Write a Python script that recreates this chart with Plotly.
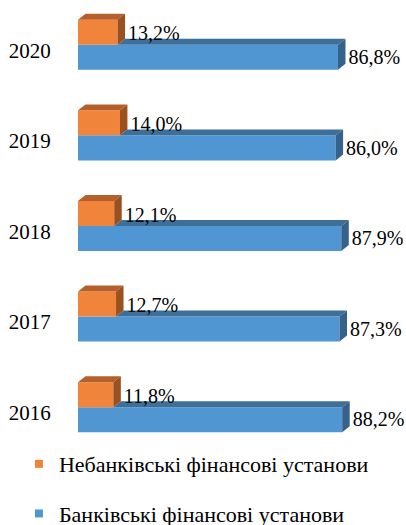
import plotly.graph_objects as go

years = ["2016", "2017", "2018", "2019", "2020"]
nonbank = [11.8, 12.7, 12.1, 14.0, 13.2]
bank = [88.2, 87.3, 87.9, 86.0, 86.8]
series_names = ["Небанківські фінансові установи", "Банківські фінансові установи"]

FONT = "Liberation Serif"
OR_FRONT, OR_TOP, OR_SIDE = "#F0843A", "#B5602B", "#9B5020"
BL_FRONT, BL_TOP, BL_SIDE = "#4F96D2", "#3E6F99", "#35618A"

W = 0.276          # bar thickness (category units)
C = 0.061          # front-face shift of the pair
DX = 2.5           # depth in x units
DY = 0.066         # depth in y units
PAD = 1.0          # label gap in x units

pos = list(range(len(years)))
oc = [p + C + W / 2 for p in pos]
bc = [p + C - W / 2 for p in pos]

def fmt(v):
    return f"{v:.1f}".replace(".", ",") + "%"

def polys(list_of_pts):
    xs, ys = [], []
    for pts in list_of_pts:
        for x, y in pts:
            xs.append(x); ys.append(y)
        xs.append(pts[0][0]); ys.append(pts[0][1])
        xs.append(None); ys.append(None)
    return xs, ys

bl_top, bl_side, or_top, or_side = [], [], [], []
for o, b, yo, yb in zip(nonbank, bank, oc, bc):
    ot, ob = yo + W / 2, yo - W / 2
    bt, bb = yb + W / 2, yb - W / 2
    or_top.append([(0, ot), (DX, ot + DY), (o + DX, ot + DY), (o, ot)])
    or_side.append([(o, ob), (o, ot), (o + DX, ot + DY), (o + DX, ob + DY)])
    bl_top.append([(o, bt), (o + DX, bt + DY), (b + DX, bt + DY), (b, bt)])
    bl_side.append([(b, bb), (b, bt), (b + DX, bt + DY), (b + DX, bb + DY)])

fig = go.Figure()
fig.add_trace(go.Bar(x=bank, y=bc, orientation="h", width=W, marker=dict(color=BL_FRONT, line=dict(width=0)),
                     showlegend=False, hoverinfo="skip"))
fig.add_trace(go.Bar(x=nonbank, y=oc, orientation="h", width=W, marker=dict(color=OR_FRONT, line=dict(width=0)),
                     showlegend=False, hoverinfo="skip"))
for pts, col in [(bl_top, BL_TOP), (bl_side, BL_SIDE), (or_top, OR_TOP), (or_side, OR_SIDE)]:
    xs, ys = polys(pts)
    fig.add_trace(go.Scatter(x=xs, y=ys, mode="lines", fill="toself", fillcolor=col,
                             line=dict(width=0, color=col), showlegend=False, hoverinfo="skip"))

fig.add_trace(go.Scatter(x=[v + DX + PAD for v in nonbank], y=[y - 0.035 for y in oc], mode="text",
                         text=[fmt(v) for v in nonbank], textposition="middle right",
                         textfont=dict(family=FONT, size=20, color="#000"), showlegend=False,
                         cliponaxis=False, hoverinfo="skip"))
fig.add_trace(go.Scatter(x=[v + DX + PAD for v in bank], y=[y - 0.02 for y in bc], mode="text",
                         text=[fmt(v) for v in bank], textposition="middle right",
                         textfont=dict(family=FONT, size=20, color="#000"), showlegend=False,
                         cliponaxis=False, hoverinfo="skip"))

# legend entries
fig.add_trace(go.Scatter(x=[None], y=[None], mode="markers", name=series_names[0],
                         marker=dict(symbol="square", size=8, color=OR_FRONT), legendgroup="a"))
fig.add_trace(go.Scatter(x=[None], y=[None], mode="markers", name=series_names[1],
                         marker=dict(symbol="square", size=8, color=BL_FRONT), legendgroup="b"))

fig.update_layout(
    width=406, height=525,
    margin=dict(l=78, r=0, t=5, b=67, autoexpand=False),
    paper_bgcolor="white", plot_bgcolor="white",
    barmode="overlay",
    showlegend=True,
    legend=dict(x=-0.18, xanchor="left", y=0.033, yanchor="top", orientation="v",
                font=dict(family=FONT, size=22, color="#000"), tracegroupgap=18,
                bgcolor="rgba(0,0,0,0)", itemwidth=30),
    xaxis=dict(range=[0, 109.5], visible=False, fixedrange=True, automargin=False),
    yaxis=dict(range=[-0.5, 4.5], tickvals=pos, ticktext=years, showgrid=False, zeroline=False,
               showline=False, ticks="outside", ticklen=22, tickcolor="rgba(0,0,0,0)", automargin=False,
               tickfont=dict(family=FONT, size=21, color="#000"), fixedrange=True),
)

fig.write_html("out.html", config={"displayModeBar": False},
               post_script="document.body.style.margin='0';document.body.style.overflow='hidden';")
